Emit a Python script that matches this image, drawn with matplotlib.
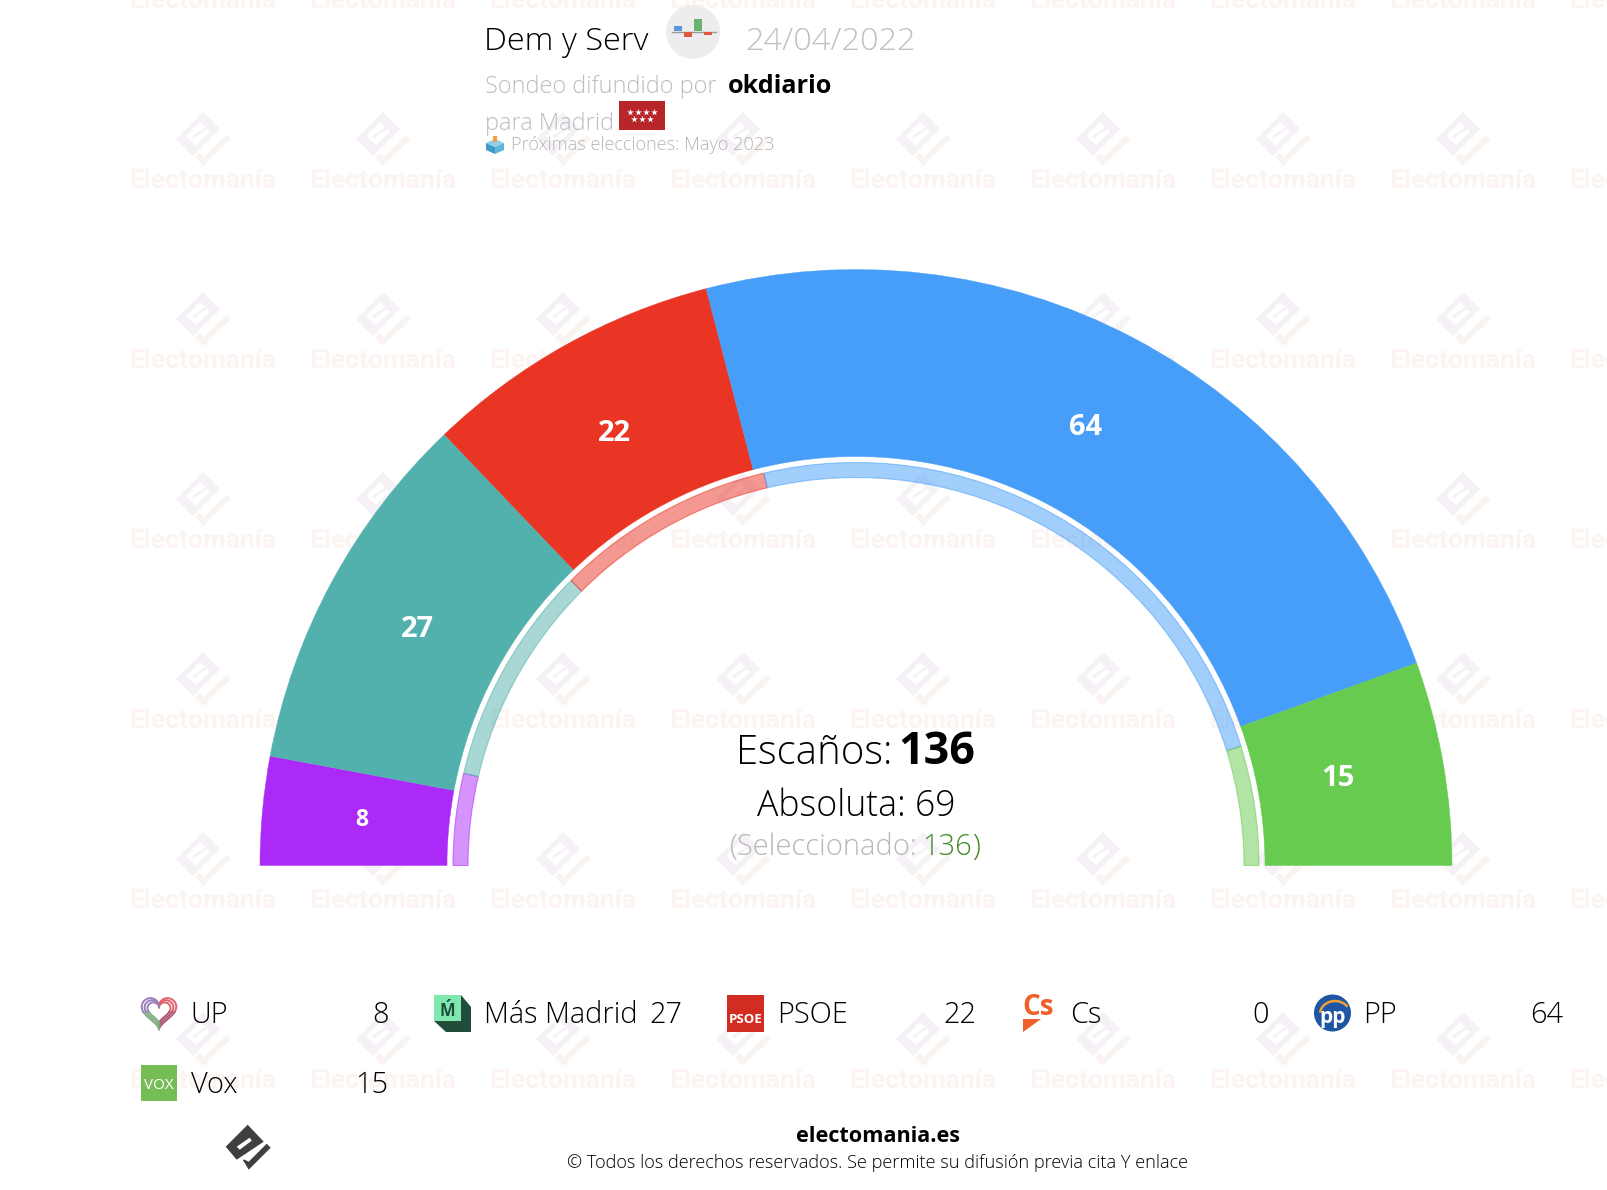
import numpy as np
import matplotlib
matplotlib.use("Agg")
import matplotlib.pyplot as plt
from matplotlib.patches import Wedge, Polygon, Circle, Rectangle, Arc

parties = ["UP", "Más Madrid", "PSOE", "Cs", "PP", "Vox"]
seats = [8, 27, 22, 0, 64, 15]
# inner thin ring: previous assembly seats
previous = [10, 24, 24, 0, 65, 13]
colors = ["#AB2AF8", "#52B1AD", "#EA3524", "#F0602B", "#479EF9", "#66CB4E"]
selected_total = 136
majority = 69

FONT = "Open Sans"
plt.rcParams["font.family"] = [FONT, "DejaVu Sans"]

fig = plt.figure(figsize=(16.08, 11.90), dpi=100)
ax = fig.add_axes([0, 0, 1, 1])
# axes run in image pixels, y pointing down
ax.set_xlim(0, 1608)
ax.set_ylim(1190, 0)
ax.axis("off")


def poly(cx, cy, pts, color, z=1, scale=1.0):
    ax.add_patch(Polygon([(cx + scale * x, cy + scale * y) for x, y in pts], fc=color, ec="none", zorder=z))


# watermark tiles
for col in range(9):
    wx = 203 + 180 * col
    for row in range(7):
        ax.text(wx, 8 + 180 * row, "Electomanía", fontsize=19, family="Roboto", weight="bold",
                color="#FBF4F1", ha="center", va="baseline", zorder=1)
        if row < 6:
            wy = 139 + 180 * row
            poly(wx, wy, [(0, -27), (17, -10), (-10, 17), (-27, 0)], "#F5F1F7")
            poly(wx, wy, [(-3, -17), (7, -7), (-7, 6), (-17, -3)], "white")
            poly(wx, wy, [(-11, -3), (3, -12), (4, -10), (-9, -1)], "#F5F1F7")
            poly(wx, wy, [(-8, 18), (-3, 14), (1, 18), (23, -4), (28, 0), (0, 27)], "#FAF4F1")

# hemicycle
cx, cy = 856, 865.5
r_out, r_in = 596, 409
band_out, band_in = 403, 388
total = sum(seats)
label_dx = [0, -2, 0, 0, -2, -7]
label_dy = [0, 0, 1, 0, 1, -1]
cum = 0
for i, (val, col) in enumerate(zip(seats, colors)):
    t1 = 180 + cum * 180 / total
    t2 = 180 + (cum + val) * 180 / total
    cum += val
    if val == 0:
        continue
    ax.add_patch(Wedge((cx, cy), r_out, t1, t2, width=r_out - r_in, fc=col, ec=col, lw=0.3, zorder=3))
    mid = np.radians((t1 + t2) / 2)
    ax.text(cx + 496 * np.cos(mid) + label_dx[i], cy + 496 * np.sin(mid) + label_dy[i], str(val), color="white",
            weight="bold", fontsize=21 if val > 8 else 16.5, ha="center", va="center", zorder=4)

prev_total = sum(previous)
cum = 0
for val, col in zip(previous, colors):
    t1 = 180 + cum * 180 / prev_total
    t2 = 180 + (cum + val) * 180 / prev_total
    cum += val
    if val == 0:
        continue
    ax.add_patch(Wedge((cx, cy), band_out, t1, t2, width=band_out - band_in,
                       fc=matplotlib.colors.to_rgba(col, 0.5), ec=matplotlib.colors.to_rgba(col, 0.55), lw=0.8, zorder=3))

# centre text
ax.text(736.5, 764, "Escaños:", fontsize=28.9, weight="light", color="black", va="baseline", zorder=5)
ax.text(898, 764, str(total), fontsize=32.3, weight="bold", color="black", va="baseline", zorder=5)
ax.text(856.5, 816, f"Absoluta: {majority}", fontsize=25.7, weight="light", ha="center", va="baseline", zorder=5)
ax.text(730, 855, "(Seleccionado:", fontsize=21, weight="light", color="#B8B8B8", va="baseline", zorder=5)
ax.text(922, 855, str(selected_total), fontsize=21, weight="light", color="#3F8A25", va="baseline", zorder=5)
ax.text(972, 855, ")", fontsize=21, weight="light", color="#3F8A25", va="baseline", zorder=5)

# header
ax.text(484, 49.5, "Dem y Serv", fontsize=23.4, weight="light", color="black", va="baseline", zorder=5)
ax.add_patch(Circle((693, 32), 27, fc="#EEEDEE", ec="none", zorder=4))
ax.plot([672, 716], [31.5, 31.5], color="#9A9A9A", lw=1, zorder=5)
for bx, top, bot, c in [(674, 26, 31, "#5B9BD5"), (684, 32, 37, "#E0573F"), (694, 19, 31, "#69B56F"), (704, 32, 35, "#E0573F")]:
    ax.add_patch(Rectangle((bx, top), 8, bot - top, fc=c, ec="none", zorder=5))
ax.text(745, 49.5, "24/04/2022", fontsize=23.4, weight="light", color="#C0C0C0", va="baseline", zorder=5)
ax.text(485, 93, "Sondeo difundido por", fontsize=16.9, weight="light", color="#BDBDBD", va="baseline", zorder=5)
ax.text(728, 93, "okdiario", fontsize=18.2, weight="bold", color="black", va="baseline", zorder=5)
ax.text(485, 130, "para Madrid", fontsize=16.9, weight="light", color="#BDBDBD", va="baseline", zorder=5)
ax.add_patch(Rectangle((619, 101), 46, 29, fc="#B8262A", ec="none", zorder=5))
ax.scatter(np.linspace(630, 654, 4), [112] * 4, marker="*", s=26, c="white", lw=0, zorder=6)
ax.scatter(np.linspace(634, 650, 3), [118.5] * 3, marker="*", s=26, c="white", lw=0, zorder=6)
poly(0, 0, [(486, 143), (495, 139), (504, 143), (495, 147)], "#8FD0E8", 5)
poly(0, 0, [(486, 143), (495, 147), (495, 154), (486, 150)], "#3E9CC6", 5)
poly(0, 0, [(495, 147), (504, 143), (504, 150), (495, 154)], "#62B5DA", 5)
ax.add_patch(Rectangle((493, 136), 4, 6, fc="#F0A040", ec="none", zorder=6))
ax.text(511, 150, "Próximas elecciones: Mayo 2023", fontsize=13.05, weight="light", color="#B5B5B5", va="baseline", zorder=5)


# party icons
def icon_up(x, y):
    t = np.linspace(0, 2 * np.pi, 241)
    hx = 16 * np.sin(t) ** 3
    hy = 13 * np.cos(t) - 5 * np.cos(2 * t) - 2 * np.cos(3 * t) - np.cos(4 * t)
    pieces = [(0, 70, "#E0616B"), (70, 120, "#B05A7A"), (120, 170, "#7FB07F"), (170, 240, "#9C7FB8")]
    for s in [1.08, 0.9, 0.72]:
        for a, b, c in pieces:
            ax.plot(x + 18 + s * hx[a:b + 1], y + 16 - s * hy[a:b + 1], color=c, lw=1.4, zorder=5)


def icon_mm(x, y):
    poly(x, y, [(0, 0), (27, 0), (37, 12), (37, 37), (12, 37), (0, 26)], "#1F4D3A", 5)
    ax.add_patch(Rectangle((x, y), 27, 26, fc="#7FE8AE", ec="none", zorder=5))
    ax.text(x + 13.5, y + 21, "Ḿ", fontsize=12, weight="bold", color="#1F4D3A", ha="center", va="baseline", zorder=6)


def icon_psoe(x, y):
    ax.add_patch(Rectangle((x, y), 37, 37, fc="#D32C22", ec="none", zorder=5))
    ax.text(x + 18.5, y + 28, "PSOE", fontsize=9.5, weight="bold", color="white", ha="center", va="baseline", zorder=6)


def icon_cs(x, y):
    ax.text(x - 1, y + 20, "Cs", fontsize=20, weight="bold", color="#EE5F2A", va="baseline", zorder=5)
    poly(x, y, [(0, 24), (18, 24), (0, 37)], "#EE5F2A", 5)


def icon_pp(x, y):
    ax.add_patch(Circle((x + 18.5, y + 18), 18.5, fc="#1E56A4", ec="none", zorder=5))
    ax.add_patch(Arc((x + 21, y + 19), 30, 26, theta1=185, theta2=330, color="#F0A030", lw=1.8, zorder=6))
    ax.text(x + 19, y + 28, "pp", fontsize=15, weight="bold", color="white", ha="center", va="baseline", zorder=6)


def icon_vox(x, y):
    ax.add_patch(Rectangle((x, y), 36, 36, fc="#77BD55", ec="none", zorder=5))
    ax.text(x + 18, y + 24, "VOX", fontsize=11, color="white", ha="center", va="baseline", zorder=6)


icons = [icon_up, icon_mm, icon_psoe, icon_cs, icon_pp, icon_vox]
icon_x = [141, 434, 727, 1023, 1314, 141]
icon_y = [995, 995, 995, 995, 995, 1065]
label_x = [190, 484, 777, 1070, 1363, 191]
value_x = [389, 682, 976, 1269, 1563, 388]
base_y = [1023, 1023, 1023, 1023, 1023, 1093]
for i, name in enumerate(parties):
    icons[i](icon_x[i], icon_y[i])
    ax.text(label_x[i], base_y[i], name, fontsize=20.8, weight="light", color="black", va="baseline", zorder=5)
    ax.text(value_x[i], base_y[i], str(seats[i]), fontsize=20.8, weight="light", color="black", ha="right", va="baseline", zorder=5)

# footer logo and credits
fx, fy = 246.7, 1146.7
poly(fx, fy, [(1, -22), (17, -5), (-10, 13), (-21, 0)], "#3F3F3F", 5)
poly(fx, fy, [(-10, 0), (3, -9), (5, -6), (-7, 3)], "white", 6)
poly(fx, fy, [(-4, 13), (2, 23), (24, 1), (20, -3), (2, 15), (-2, 13)], "#3F3F3F", 5)
ax.text(878, 1141.5, "electomania.es", fontsize=15.6, weight="bold", color="black", ha="center", va="baseline", zorder=5)
ax.text(878, 1168, "© Todos los derechos reservados. Se permite su difusión previa cita Y enlace",
        fontsize=13.05, weight="light", color="black", ha="center", va="baseline", zorder=5)

fig.savefig("out.png", dpi=100, facecolor="white")
